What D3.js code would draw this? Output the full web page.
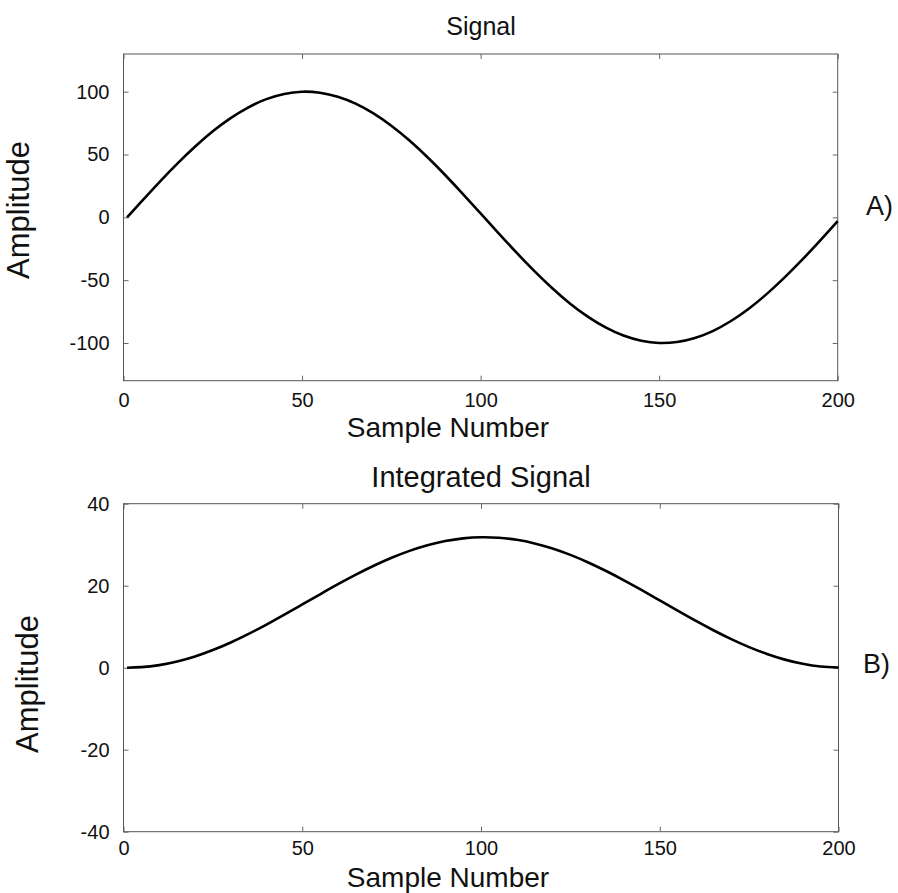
<!DOCTYPE html>
<html>
<head>
<meta charset="utf-8">
<script src="https://cdn.jsdelivr.net/npm/d3@7/dist/d3.min.js"></script>
<style>
  html, body { margin: 0; padding: 0; background: #fff; }
  text { font-family: "Liberation Sans", Arial, Helvetica, sans-serif; fill: #111; }
</style>
</head>
<body>
<svg id="chart" width="898" height="893"></svg>
<script>
// ---- Data ----
const sampleNumbers = [1,5,10,15,20,25,30,35,40,45,50,55,60,65,70,75,80,85,90,95,100,
  105,110,115,120,125,130,135,140,145,150,155,160,165,170,175,180,185,190,195,200];

const signalValues = [0,12.5,27.9,42.6,56.2,68.5,79.0,87.6,94.1,98.2,100,99.2,96.0,90.5,82.7,72.9,61.3,48.2,33.9,18.7,3.1,
  -12.5,-27.9,-42.6,-56.2,-68.5,-79.0,-87.6,-94.1,-98.2,-100,-99.2,-96.0,-90.5,-82.7,-72.9,-61.3,-48.2,-33.9,-18.7,-3.1];

const integratedValues = [0,0.13,0.63,1.52,2.75,4.31,6.16,8.25,10.52,12.93,15.42,17.91,20.36,22.69,24.86,26.81,28.49,29.86,30.89,31.55,31.82,
  31.70,31.20,30.32,29.08,27.52,25.67,23.58,21.31,18.90,16.41,13.92,11.47,9.14,6.97,5.02,3.34,1.97,0.94,0.28,0.05];

const xTicks = [0, 50, 100, 150, 200];
const yTicksA = [-100, -50, 0, 50, 100];
const yTicksB = [-40, -20, 0, 20, 40];

const panels = [
  { title: "Signal", titleSize: 25, tag: "A)", values: signalValues, yDomain: [-130, 130], yTicks: yTicksA,
    left: 123.5, right: 837.7, top: 54, bottom: 380.7, xPad: 12,
    titleY: 35, xLabelY: 437, yLabelX: 29, yLabelY: 210, tagX: 866, tagY: 215 },
  { title: "Integrated Signal", titleSize: 29, tag: "B)", values: integratedValues, yDomain: [-40, 40], yTicks: yTicksB,
    left: 123.5, right: 838.5, top: 503.7, bottom: 831.7, xPad: 9,
    titleY: 487, xLabelY: 887, yLabelX: 38, yLabelY: 684, tagX: 863, tagY: 673 }
];

const svg = d3.select("#chart");
const tickLen = 5;
const fmt = d => String(d); // plain hyphen-minus, as in the reference

panels.forEach(p => {
  const x = d3.scaleLinear().domain([0, 200]).range([p.left, p.right]);
  const y = d3.scaleLinear().domain(p.yDomain).range([p.bottom, p.top]);
  const g = svg.append("g");

  // frame
  g.append("rect")
    .attr("x", p.left).attr("y", p.top)
    .attr("width", p.right - p.left).attr("height", p.bottom - p.top)
    .attr("fill", "none").attr("stroke", "#555").attr("stroke-width", 1);

  // axes (inward ticks on all sides)
  const axB = d3.axisBottom(x).tickValues(xTicks).tickSize(-tickLen).tickPadding(p.xPad).tickFormat(fmt);
  const axT = d3.axisTop(x).tickValues(xTicks).tickSize(-tickLen).tickFormat("");
  const axL = d3.axisLeft(y).tickValues(p.yTicks).tickSize(-tickLen).tickPadding(14).tickFormat(fmt);
  const axR = d3.axisRight(y).tickValues(p.yTicks).tickSize(-tickLen).tickFormat("");

  const gb = g.append("g").attr("transform", `translate(0,${p.bottom})`).call(axB);
  const gt = g.append("g").attr("transform", `translate(0,${p.top})`).call(axT);
  const gl = g.append("g").attr("transform", `translate(${p.left},0)`).call(axL);
  const gr = g.append("g").attr("transform", `translate(${p.right},0)`).call(axR);
  [gb, gt, gl, gr].forEach(a => {
    a.select(".domain").remove();
    a.selectAll(".tick line").attr("stroke", "#666").attr("stroke-width", 1);
    a.selectAll(".tick text").style("font-size", "20px")
      .style("font-family", '"Liberation Sans", Arial, sans-serif').attr("fill", "#111");
  });
  gb.selectAll(".tick text").attr("dy", "0.71em");

  // line
  const line = d3.line()
    .x((d, i) => x(sampleNumbers[i]))
    .y(d => y(d))
    .curve(d3.curveNatural);
  g.append("path")
    .datum(p.values)
    .attr("d", line)
    .attr("fill", "none")
    .attr("stroke", "#000")
    .attr("stroke-width", 2.6)
    .attr("stroke-linejoin", "round");

  // titles and labels
  g.append("text").attr("x", 481).attr("y", p.titleY)
    .attr("text-anchor", "middle").style("font-size", p.titleSize + "px").text(p.title);
  g.append("text").attr("x", 448).attr("y", p.xLabelY)
    .attr("text-anchor", "middle").style("font-size", "28px").text("Sample Number");
  g.append("text")
    .attr("transform", `translate(${p.yLabelX},${p.yLabelY}) rotate(-90)`)
    .attr("text-anchor", "middle").style("font-size", "31px").text("Amplitude");
  g.append("text").attr("x", p.tagX).attr("y", p.tagY)
    .style("font-size", "27px").text(p.tag);
});
</script>
</body>
</html>
